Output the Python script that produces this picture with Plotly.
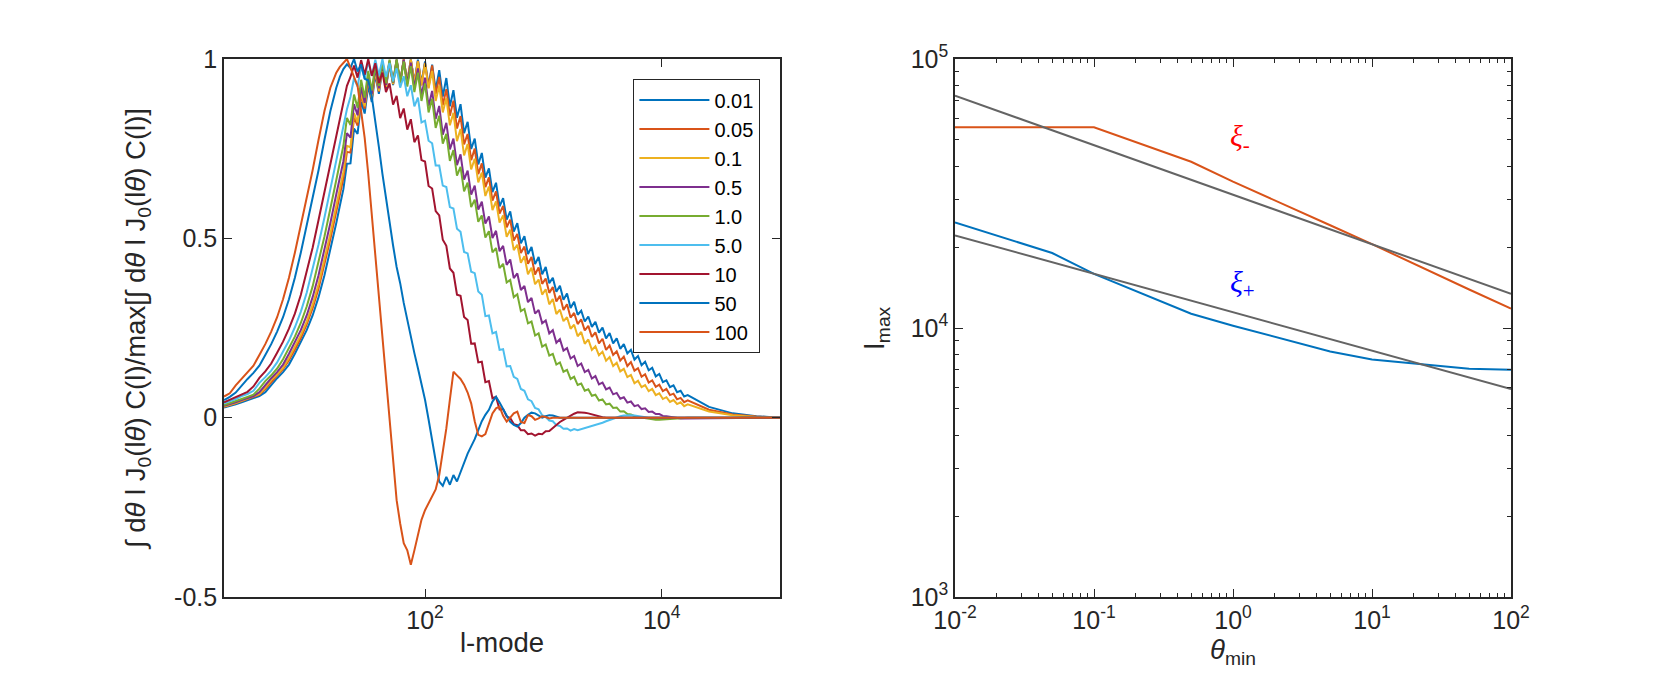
import plotly.graph_objects as go

# ---------------- LEFT PANEL DATA ----------------
# log10(l) sampling grid
l_mode_log10 = [
    0.301, 0.35, 0.40, 0.45, 0.50, 0.55, 0.60, 0.65, 0.70, 0.75,
    0.80, 0.85, 0.90, 0.95, 1.00, 1.05, 1.10, 1.15, 1.20, 1.25,
    1.28, 1.31, 1.34, 1.37, 1.40, 1.43, 1.46, 1.49, 1.52, 1.55,
    1.58, 1.61, 1.64, 1.67, 1.70, 1.73, 1.76, 1.79, 1.82, 1.85,
    1.88, 1.91, 1.94, 1.97, 2.00, 2.03, 2.06, 2.09, 2.12, 2.15,
    2.18, 2.21, 2.24, 2.27, 2.30, 2.33, 2.36, 2.39, 2.42, 2.45,
    2.48, 2.51, 2.54, 2.57, 2.60, 2.63, 2.66, 2.69, 2.72, 2.75,
    2.78, 2.81, 2.84, 2.87, 2.90, 2.93, 2.96, 2.99, 3.02, 3.05,
    3.08, 3.11, 3.14, 3.17, 3.20, 3.23, 3.26, 3.29, 3.32, 3.35,
    3.38, 3.41, 3.44, 3.47, 3.50, 3.53, 3.56, 3.59, 3.62, 3.65,
    3.68, 3.71, 3.74, 3.77, 3.80, 3.83, 3.86, 3.89, 3.92, 3.95,
    3.98, 4.01, 4.04, 4.07, 4.10, 4.13, 4.16, 4.19, 4.22,
    4.40, 4.60, 4.80, 5.00]

theta_labels = ["0.01", "0.05", "0.1", "0.5", "1.0", "5.0", "10", "50", "100"]

norm_0_01 = [
    0.028, 0.032, 0.037, 0.043, 0.049, 0.055, 0.060, 0.071, 0.092, 0.110,
    0.127, 0.148, 0.178, 0.209, 0.244, 0.285, 0.336, 0.397, 0.467, 0.543,
    0.591, 0.637, 0.708, 0.709, 0.806, 0.791, 0.881, 0.848, 0.926, 0.880,
    0.957, 0.903, 0.975, 0.918, 0.987, 0.927, 0.994, 0.933, 0.998, 0.935,
    0.999, 0.935, 0.998, 0.932, 0.993, 0.925, 0.984, 0.913, 0.969, 0.895,
    0.947, 0.868, 0.913, 0.836, 0.874, 0.793, 0.825, 0.749, 0.778, 0.706,
    0.738, 0.669, 0.695, 0.629, 0.655, 0.589, 0.612, 0.552, 0.575, 0.519,
    0.542, 0.486, 0.506, 0.456, 0.476, 0.428, 0.448, 0.400, 0.420, 0.375,
    0.390, 0.351, 0.368, 0.329, 0.346, 0.306, 0.323, 0.287, 0.298, 0.268,
    0.282, 0.253, 0.267, 0.237, 0.251, 0.221, 0.236, 0.207, 0.221, 0.192,
    0.205, 0.179, 0.189, 0.162, 0.172, 0.146, 0.156, 0.132, 0.139, 0.115,
    0.122, 0.099, 0.104, 0.085, 0.090, 0.071, 0.075, 0.059, 0.063,
    0.030, 0.012, 0.004, 0.0]

norm_0_05 = [
    0.030, 0.034, 0.040, 0.046, 0.052, 0.058, 0.064, 0.080, 0.100, 0.117,
    0.135, 0.160, 0.190, 0.222, 0.260, 0.305, 0.360, 0.425, 0.498, 0.575,
    0.623, 0.668, 0.741, 0.739, 0.837, 0.814, 0.899, 0.862, 0.940, 0.889,
    0.964, 0.909, 0.980, 0.922, 0.990, 0.930, 0.996, 0.934, 0.999, 0.935,
    0.998, 0.933, 0.995, 0.928, 0.989, 0.921, 0.982, 0.902, 0.950, 0.871,
    0.916, 0.842, 0.884, 0.806, 0.841, 0.762, 0.791, 0.718, 0.750, 0.679,
    0.709, 0.643, 0.670, 0.605, 0.631, 0.569, 0.590, 0.531, 0.552, 0.494,
    0.512, 0.459, 0.477, 0.429, 0.448, 0.399, 0.419, 0.373, 0.388, 0.348,
    0.364, 0.324, 0.340, 0.300, 0.316, 0.279, 0.292, 0.261, 0.274, 0.243,
    0.256, 0.225, 0.238, 0.207, 0.220, 0.189, 0.201, 0.175, 0.185, 0.159,
    0.170, 0.144, 0.155, 0.131, 0.138, 0.114, 0.121, 0.098, 0.104, 0.086,
    0.092, 0.074, 0.080, 0.063, 0.067, 0.051, 0.055, 0.043, 0.048,
    0.022, 0.009, 0.003, 0.0]

norm_0_1 = [
    0.031, 0.035, 0.041, 0.047, 0.053, 0.058, 0.066, 0.084, 0.105, 0.120,
    0.139, 0.166, 0.196, 0.230, 0.268, 0.315, 0.372, 0.439, 0.513, 0.591,
    0.637, 0.685, 0.758, 0.754, 0.849, 0.823, 0.906, 0.868, 0.944, 0.893,
    0.967, 0.911, 0.982, 0.923, 0.991, 0.930, 0.997, 0.934, 0.999, 0.935,
    0.998, 0.932, 0.993, 0.926, 0.987, 0.918, 0.967, 0.883, 0.926, 0.851,
    0.891, 0.815, 0.850, 0.771, 0.805, 0.731, 0.763, 0.692, 0.722, 0.656,
    0.683, 0.618, 0.644, 0.579, 0.603, 0.544, 0.564, 0.504, 0.524, 0.467,
    0.482, 0.432, 0.450, 0.400, 0.418, 0.372, 0.385, 0.343, 0.358, 0.316,
    0.331, 0.289, 0.301, 0.269, 0.280, 0.248, 0.259, 0.227, 0.239, 0.206,
    0.218, 0.189, 0.199, 0.174, 0.184, 0.159, 0.169, 0.144, 0.153, 0.129,
    0.136, 0.113, 0.119, 0.096, 0.103, 0.085, 0.091, 0.074, 0.080, 0.063,
    0.068, 0.052, 0.057, 0.044, 0.049, 0.038, 0.043, 0.032, 0.037,
    0.017, 0.007, 0.002, 0.0]

norm_0_5 = [
    0.033, 0.037, 0.043, 0.049, 0.055, 0.060, 0.071, 0.092, 0.110, 0.127,
    0.148, 0.178, 0.209, 0.244, 0.285, 0.336, 0.397, 0.467, 0.543, 0.623,
    0.668, 0.715, 0.793, 0.781, 0.874, 0.843, 0.922, 0.878, 0.955, 0.902,
    0.975, 0.918, 0.987, 0.928, 0.995, 0.934, 0.999, 0.935, 0.998, 0.931,
    0.990, 0.919, 0.974, 0.898, 0.948, 0.868, 0.911, 0.833, 0.869, 0.789,
    0.822, 0.748, 0.778, 0.704, 0.734, 0.664, 0.689, 0.622, 0.647, 0.580,
    0.602, 0.541, 0.561, 0.501, 0.521, 0.464, 0.479, 0.426, 0.441, 0.389,
    0.402, 0.356, 0.367, 0.322, 0.334, 0.290, 0.300, 0.263, 0.271, 0.235,
    0.244, 0.209, 0.219, 0.187, 0.194, 0.165, 0.172, 0.144, 0.151, 0.127,
    0.133, 0.109, 0.116, 0.093, 0.098, 0.079, 0.084, 0.065, 0.069, 0.053,
    0.057, 0.042, 0.045, 0.032, 0.035, 0.024, 0.026, 0.016, 0.017, 0.010,
    0.010, 0.005, 0.004, 0.002, 0.000, -0.001, -0.002, -0.002, -0.002,
    -0.001, 0.0, 0.0, 0.0]

norm_1_0 = [
    0.035, 0.040, 0.046, 0.052, 0.058, 0.064, 0.081, 0.102, 0.118, 0.137,
    0.163, 0.193, 0.226, 0.264, 0.310, 0.366, 0.432, 0.505, 0.583, 0.660,
    0.707, 0.758, 0.836, 0.816, 0.901, 0.864, 0.942, 0.892, 0.967, 0.912,
    0.983, 0.925, 0.993, 0.932, 0.998, 0.935, 0.999, 0.933, 0.993, 0.923,
    0.980, 0.908, 0.962, 0.883, 0.932, 0.851, 0.889, 0.808, 0.842, 0.764,
    0.791, 0.716, 0.746, 0.675, 0.699, 0.631, 0.655, 0.587, 0.608, 0.546,
    0.564, 0.502, 0.520, 0.461, 0.473, 0.417, 0.429, 0.377, 0.384, 0.336,
    0.344, 0.297, 0.303, 0.263, 0.268, 0.229, 0.235, 0.198, 0.204, 0.173,
    0.178, 0.148, 0.154, 0.128, 0.133, 0.108, 0.114, 0.091, 0.095, 0.075,
    0.079, 0.061, 0.064, 0.048, 0.051, 0.037, 0.039, 0.027, 0.028, 0.017,
    0.018, 0.010, 0.009, 0.004, 0.002, 0.000, -0.002, -0.004, -0.005, -0.006,
    -0.006, -0.006, -0.005, -0.004, -0.003, -0.002, -0.001, 0.0, 0.0,
    0.0, 0.0, 0.0, 0.0]

norm_5_0 = [
    0.040, 0.045, 0.052, 0.060, 0.066, 0.075, 0.097, 0.113, 0.131, 0.154,
    0.184, 0.215, 0.252, 0.295, 0.348, 0.413, 0.483, 0.558, 0.637, 0.715,
    0.767, 0.815, 0.860, 0.895, 0.947, 0.923, 0.980, 0.945, 0.994, 0.953,
    0.998, 0.954, 1.000, 0.950, 0.989, 0.938, 0.974, 0.920, 0.952, 0.896,
    0.927, 0.868, 0.892, 0.823, 0.828, 0.772, 0.765, 0.703, 0.703, 0.647,
    0.643, 0.587, 0.583, 0.527, 0.518, 0.462, 0.458, 0.407, 0.403, 0.352,
    0.343, 0.283, 0.285, 0.235, 0.239, 0.189, 0.191, 0.143, 0.144, 0.114,
    0.108, 0.080, 0.075, 0.051, 0.046, 0.027, 0.023, 0.007, 0.002, -0.008,
    -0.010, -0.021, -0.023, -0.031, -0.030, -0.036, -0.032, -0.035, -0.032, -0.030,
    -0.028, -0.025, -0.022, -0.018, -0.014, -0.010, -0.006, -0.002, 0.001, 0.004,
    0.006, 0.007, 0.007, 0.006, 0.004, 0.002, 0.001, 0.0, 0.0, 0.0,
    0.0, 0.0, 0.0, 0.0, 0.0, 0.0, 0.0, 0.0, 0.0,
    0.0, 0.0, 0.0, 0.0]

norm_10 = [
    0.043, 0.050, 0.058, 0.065, 0.072, 0.087, 0.111, 0.129, 0.151, 0.181,
    0.212, 0.248, 0.290, 0.342, 0.404, 0.474, 0.551, 0.630, 0.707, 0.791,
    0.840, 0.885, 0.925, 0.950, 0.982, 0.948, 0.997, 0.956, 1.000, 0.953,
    0.988, 0.933, 0.962, 0.908, 0.932, 0.873, 0.897, 0.835, 0.862, 0.803,
    0.832, 0.768, 0.787, 0.718, 0.714, 0.646, 0.639, 0.576, 0.564, 0.496,
    0.479, 0.416, 0.404, 0.343, 0.340, 0.281, 0.272, 0.206, 0.207, 0.154,
    0.156, 0.099, 0.102, 0.054, 0.058, 0.023, 0.024, 0.003, -0.001, -0.018,
    -0.021, -0.035, -0.035, -0.046, -0.044, -0.050, -0.045, -0.046, -0.038, -0.037,
    -0.028, -0.020, -0.012, -0.006, 0.000, 0.006, 0.011, 0.015, 0.015, 0.014,
    0.012, 0.009, 0.006, 0.003, 0.001, 0.0, 0.0, 0.0, 0.0, 0.0,
    0.0, 0.0, 0.0, 0.0, 0.0, 0.0, 0.0, 0.0, 0.0, 0.0,
    0.0, 0.0, 0.0, 0.0, 0.0, 0.0, 0.0, 0.0, 0.0,
    0.0, 0.0, 0.0, 0.0]

norm_50 = [
    0.049, 0.058, 0.070, 0.090, 0.108, 0.125, 0.145, 0.175, 0.205, 0.240,
    0.280, 0.330, 0.390, 0.460, 0.535, 0.615, 0.690, 0.775, 0.855, 0.920,
    0.950, 0.972, 0.985, 0.975, 1.000, 0.965, 0.985, 0.945, 0.940, 0.895,
    0.830, 0.755, 0.680, 0.610, 0.540, 0.480, 0.420, 0.375, 0.320, 0.270,
    0.225, 0.180, 0.138, 0.095, 0.050, -0.005, -0.065, -0.130, -0.178, -0.190,
    -0.165, -0.187, -0.160, -0.178, -0.150, -0.125, -0.100, -0.080, -0.060, -0.035,
    -0.010, 0.008, 0.022, 0.045, 0.058, 0.042, 0.025, 0.005, -0.012, -0.020,
    -0.025, -0.015, 0.000, 0.008, 0.014, 0.012, 0.006, 0.000, 0.004, 0.007,
    0.006, 0.002, 0.0, 0.0, 0.0, 0.0, 0.0, 0.0, 0.0, 0.0,
    0.0, 0.0, 0.0, 0.0, 0.0, 0.0, 0.0, 0.0, 0.0, 0.0,
    0.0, 0.0, 0.0, 0.0, 0.0, 0.0, 0.0, 0.0, 0.0, 0.0,
    0.0, 0.0, 0.0, 0.0, 0.0, 0.0, 0.0, 0.0, 0.0,
    0.0, 0.0, 0.0, 0.0]

norm_100 = [
    0.059, 0.068, 0.090, 0.108, 0.125, 0.145, 0.175, 0.205, 0.240, 0.280,
    0.330, 0.390, 0.460, 0.535, 0.615, 0.690, 0.775, 0.855, 0.920, 0.962,
    0.978, 0.990, 1.000, 0.975, 0.952, 0.925, 0.854, 0.780, 0.680, 0.566,
    0.450, 0.330, 0.218, 0.103, -0.020, -0.125, -0.230, -0.295, -0.350, -0.370,
    -0.410, -0.370, -0.330, -0.285, -0.258, -0.240, -0.220, -0.200, -0.160, -0.100,
    -0.030, 0.050, 0.128, 0.118, 0.108, 0.092, 0.070, 0.040, -0.010, -0.048,
    -0.052, -0.046, -0.015, 0.012, 0.026, 0.031, 0.005, -0.011, 0.000, 0.012,
    0.017, -0.012, -0.015, 0.007, 0.004, -0.006, -0.002, 0.004, 0.002, -0.002,
    0.0, 0.0, 0.0, 0.0, 0.0, 0.0, 0.0, 0.0, 0.0, 0.0,
    0.0, 0.0, 0.0, 0.0, 0.0, 0.0, 0.0, 0.0, 0.0, 0.0,
    0.0, 0.0, 0.0, 0.0, 0.0, 0.0, 0.0, 0.0, 0.0, 0.0,
    0.0, 0.0, 0.0, 0.0, 0.0, 0.0, 0.0, 0.0, 0.0,
    0.0, 0.0, 0.0, 0.0]

left_series = [norm_0_01, norm_0_05, norm_0_1, norm_0_5, norm_1_0,
               norm_5_0, norm_10, norm_50, norm_100]

# ---------------- RIGHT PANEL DATA ----------------
theta_min = [0.01, 0.05, 0.1, 0.5, 1.0, 5.0, 10.0, 50.0, 100.0]
lmax_xi_minus = [55700, 55700, 55700, 41500, 35000, 24100, 20500, 13900, 11800]
lmax_xi_plus = [24700, 19000, 15900, 11300, 10200, 8180, 7640, 7050, 7000]
fit_theta = [0.01, 100.0]
fit_xi_minus = [73100, 13400]
fit_xi_plus = [22100, 5930]

# ---------------- STYLE ----------------
W, H = 1661, 677
ML, MR, MT, MB = 216, 158, 51, 88
PW = W - ML - MR
PH = H - MT - MB
FONT = "Liberation Sans, Arial, Helvetica, sans-serif"
AX = "#262626"
matlab = ["#0072BD", "#D95319", "#EDB120", "#7E2F8E", "#77AC30",
          "#4DBEEE", "#A2142F", "#0072BD", "#D95319"]

l_mode = [10 ** v for v in l_mode_log10]

fig = go.Figure()
for lab, col, ys in zip(theta_labels, matlab, left_series):
    assert len(ys) == len(l_mode), (lab, len(ys), len(l_mode))
    fig.add_trace(go.Scatter(x=l_mode, y=ys, mode="lines", name=lab,
                             line=dict(color=col, width=2),
                             xaxis="x", yaxis="y"))

fig.add_trace(go.Scatter(x=theta_min, y=lmax_xi_minus, mode="lines",
                         line=dict(color="#D95319", width=2), showlegend=False,
                         xaxis="x2", yaxis="y2"))
fig.add_trace(go.Scatter(x=theta_min, y=lmax_xi_plus, mode="lines",
                         line=dict(color="#0072BD", width=2), showlegend=False,
                         xaxis="x2", yaxis="y2"))
fig.add_trace(go.Scatter(x=fit_theta, y=fit_xi_minus, mode="lines",
                         line=dict(color="#646464", width=2), showlegend=False,
                         xaxis="x2", yaxis="y2"))
fig.add_trace(go.Scatter(x=fit_theta, y=fit_xi_plus, mode="lines",
                         line=dict(color="#646464", width=2), showlegend=False,
                         xaxis="x2", yaxis="y2"))

axis_common = dict(showline=True, linecolor=AX, linewidth=1.6, mirror="ticks",
                   ticks="inside", ticklen=8, tickwidth=1.4, tickcolor=AX,
                   showgrid=False, zeroline=False,
                   tickfont=dict(family=FONT, size=25, color=AX))
TITLE_FONT = dict(family=FONT, size=27.5, color=AX)

minor_theta = [m * 10.0 ** e for e in range(-2, 2) for m in range(2, 10)]
minor_lmax = [m * 10.0 ** e for e in range(3, 5) for m in range(2, 10)]

x1_dom = [0.0, (772 - ML) / PW]
x2_dom = [(947 - ML) / PW, 1.0]

fig.update_layout(
    width=W, height=H,
    margin=dict(l=ML, r=MR, t=MT, b=MB, autoexpand=False),
    paper_bgcolor="white", plot_bgcolor="white",
    font=dict(family=FONT, color=AX),
    xaxis=dict(axis_common, domain=x1_dom, type="log",
               range=[0.30103, 5.0],
               tickmode="array", tickvals=[100, 10000],
               ticktext=["10<sup>2</sup>", "10<sup>4</sup>"],
               title=dict(text="l-mode", font=TITLE_FONT, standoff=0),
               anchor="y"),
    yaxis=dict(axis_common, domain=[0, 1], range=[-0.5, 1.0],
               tickmode="array", tickvals=[-0.5, 0, 0.5, 1],
               ticktext=["-0.5", "0", "0.5", "1"],
               title=dict(text="\u222b d<i>\u03b8</i> l J<sub>0</sub>(l<i>\u03b8</i>) C(l)/max[\u222b d<i>\u03b8</i> l J<sub>0</sub>(l<i>\u03b8</i>) C(l)]",
                          font=TITLE_FONT, standoff=20),
               anchor="x"),
    xaxis2=dict(axis_common, domain=x2_dom, type="log", range=[-2, 2],
                tickmode="array", tickvals=[0.01, 0.1, 1, 10, 100],
                ticktext=["10<sup>-2</sup>", "10<sup>-1</sup>", "10<sup>0</sup>",
                          "10<sup>1</sup>", "10<sup>2</sup>"],
                minor=dict(tickmode="array", tickvals=minor_theta, ticks="inside",
                           ticklen=4, tickwidth=1.2, tickcolor=AX),
                title=dict(text="<i>\u03b8</i><sub>min</sub>", font=TITLE_FONT,
                           standoff=0),
                anchor="y2"),
    yaxis2=dict(axis_common, domain=[0, 1], type="log", range=[3, 5],
                tickmode="array", tickvals=[1e3, 1e4, 1e5],
                ticktext=["10<sup>3</sup>", "10<sup>4</sup>", "10<sup>5</sup>"],
                minor=dict(tickmode="array", tickvals=minor_lmax, ticks="inside",
                           ticklen=4, tickwidth=1.2, tickcolor=AX),
                title=dict(text="l<sub>max</sub>", font=TITLE_FONT, standoff=18),
                anchor="x2"),
    legend=dict(x=(752 - ML) / PW, y=(589 - 71) / PH,
                xanchor="right", yanchor="top",
                bgcolor="white", bordercolor=AX, borderwidth=1.4,
                font=dict(family=FONT, size=20, color="black"),
                itemwidth=70, tracegroupgap=0),
    showlegend=True,
)

fig.add_annotation(x=0.05, y=4.705, xref="x2", yref="y2",
                   text="<i>\u03be</i><sub>-</sub>", showarrow=False,
                   font=dict(family="Liberation Serif, DejaVu Serif, serif", size=30, color="#FF0000"))
fig.add_annotation(x=0.07, y=4.165, xref="x2", yref="y2",
                   text="<i>\u03be</i><sub>+</sub>", showarrow=False,
                   font=dict(family="Liberation Serif, DejaVu Serif, serif", size=30, color="#0000FF"))

fig.write_html("out.html")
